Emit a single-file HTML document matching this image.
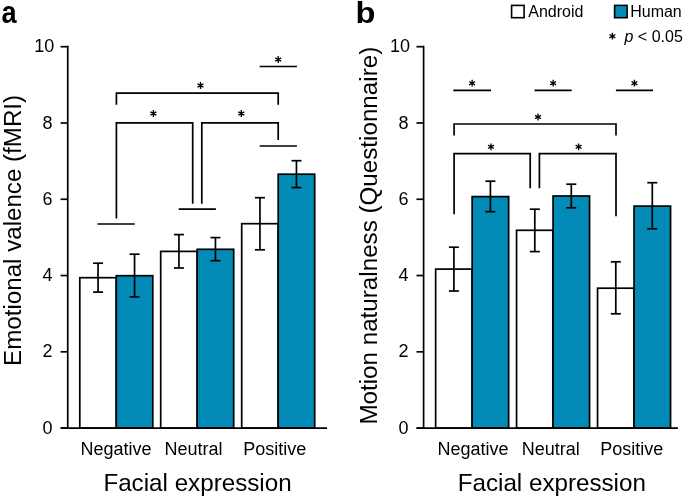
<!DOCTYPE html>
<html><head><meta charset="utf-8"><style>
html,body{margin:0;padding:0;background:#fff;}
svg{display:block;}
text{font-family:"Liberation Sans",sans-serif;fill:#000;}
</style></head><body>
<svg width="685" height="498" viewBox="0 0 685 498" stroke="#000">
<rect x="0" y="0" width="685" height="498" fill="#fff" stroke="none"/>
<g stroke="#000">
<rect x="79.80" y="277.70" width="36.50" height="150.40" fill="#fff" stroke-width="1.7"/>
<rect x="116.30" y="275.70" width="36.50" height="152.40" fill="#028bb6" stroke-width="1.7"/>
<line x1="98.05" y1="263.20" x2="98.05" y2="292.10" stroke-width="1.7" stroke-linecap="butt"/>
<line x1="93.05" y1="263.20" x2="103.05" y2="263.20" stroke-width="1.7" stroke-linecap="butt"/>
<line x1="93.05" y1="292.10" x2="103.05" y2="292.10" stroke-width="1.7" stroke-linecap="butt"/>
<line x1="134.55" y1="254.20" x2="134.55" y2="296.90" stroke-width="1.7" stroke-linecap="butt"/>
<line x1="129.55" y1="254.20" x2="139.55" y2="254.20" stroke-width="1.7" stroke-linecap="butt"/>
<line x1="129.55" y1="296.90" x2="139.55" y2="296.90" stroke-width="1.7" stroke-linecap="butt"/>
<rect x="160.70" y="251.40" width="36.50" height="176.70" fill="#fff" stroke-width="1.7"/>
<rect x="197.20" y="249.30" width="36.50" height="178.80" fill="#028bb6" stroke-width="1.7"/>
<line x1="178.95" y1="234.60" x2="178.95" y2="268.00" stroke-width="1.7" stroke-linecap="butt"/>
<line x1="173.95" y1="234.60" x2="183.95" y2="234.60" stroke-width="1.7" stroke-linecap="butt"/>
<line x1="173.95" y1="268.00" x2="183.95" y2="268.00" stroke-width="1.7" stroke-linecap="butt"/>
<line x1="215.45" y1="237.60" x2="215.45" y2="260.70" stroke-width="1.7" stroke-linecap="butt"/>
<line x1="210.45" y1="237.60" x2="220.45" y2="237.60" stroke-width="1.7" stroke-linecap="butt"/>
<line x1="210.45" y1="260.70" x2="220.45" y2="260.70" stroke-width="1.7" stroke-linecap="butt"/>
<rect x="241.70" y="223.70" width="36.50" height="204.40" fill="#fff" stroke-width="1.7"/>
<rect x="278.20" y="174.20" width="36.50" height="253.90" fill="#028bb6" stroke-width="1.7"/>
<line x1="259.95" y1="197.70" x2="259.95" y2="249.80" stroke-width="1.7" stroke-linecap="butt"/>
<line x1="254.95" y1="197.70" x2="264.95" y2="197.70" stroke-width="1.7" stroke-linecap="butt"/>
<line x1="254.95" y1="249.80" x2="264.95" y2="249.80" stroke-width="1.7" stroke-linecap="butt"/>
<line x1="296.45" y1="160.70" x2="296.45" y2="187.60" stroke-width="1.7" stroke-linecap="butt"/>
<line x1="291.45" y1="160.70" x2="301.45" y2="160.70" stroke-width="1.7" stroke-linecap="butt"/>
<line x1="291.45" y1="187.60" x2="301.45" y2="187.60" stroke-width="1.7" stroke-linecap="butt"/>
<line x1="67.75" y1="45.85" x2="67.75" y2="428.10" stroke-width="1.7" stroke-linecap="butt"/>
<line x1="60.80" y1="428.10" x2="327.00" y2="428.10" stroke-width="1.7" stroke-linecap="butt"/>
<line x1="60.60" y1="428.10" x2="67.75" y2="428.10" stroke-width="1.7" stroke-linecap="butt"/>
<line x1="60.60" y1="351.82" x2="67.75" y2="351.82" stroke-width="1.7" stroke-linecap="butt"/>
<line x1="60.60" y1="275.54" x2="67.75" y2="275.54" stroke-width="1.7" stroke-linecap="butt"/>
<line x1="60.60" y1="199.26" x2="67.75" y2="199.26" stroke-width="1.7" stroke-linecap="butt"/>
<line x1="60.60" y1="122.98" x2="67.75" y2="122.98" stroke-width="1.7" stroke-linecap="butt"/>
<line x1="60.60" y1="46.70" x2="67.75" y2="46.70" stroke-width="1.7" stroke-linecap="butt"/>
<line x1="97.50" y1="224.00" x2="134.70" y2="224.00" stroke-width="1.7" stroke-linecap="butt"/>
<line x1="178.70" y1="209.10" x2="215.90" y2="209.10" stroke-width="1.7" stroke-linecap="butt"/>
<line x1="259.70" y1="146.00" x2="296.90" y2="146.00" stroke-width="1.7" stroke-linecap="butt"/>
<line x1="259.60" y1="66.50" x2="296.90" y2="66.50" stroke-width="1.7" stroke-linecap="butt"/>
<path d="M278.20,62.90L278.20,56.10M275.26,61.20L281.14,57.80M275.26,57.80L281.14,61.20" stroke-width="1.35" fill="none"/>
<polyline points="116.40,104.70 116.40,93.20 278.20,93.20 278.20,104.70" fill="none" stroke-width="1.7" stroke-linejoin="miter"/>
<path d="M200.50,88.90L200.50,82.10M197.56,87.20L203.44,83.80M197.56,83.80L203.44,87.20" stroke-width="1.35" fill="none"/>
<polyline points="116.40,218.50 116.40,122.90 192.70,122.90 192.70,203.70" fill="none" stroke-width="1.7" stroke-linejoin="miter"/>
<path d="M153.40,116.90L153.40,110.10M150.46,115.20L156.34,111.80M150.46,111.80L156.34,115.20" stroke-width="1.35" fill="none"/>
<polyline points="201.80,203.70 201.80,122.90 278.20,122.90 278.20,139.90" fill="none" stroke-width="1.7" stroke-linejoin="miter"/>
<path d="M241.30,116.90L241.30,110.10M238.36,115.20L244.24,111.80M238.36,111.80L244.24,115.20" stroke-width="1.35" fill="none"/>
<rect x="435.65" y="269.10" width="36.50" height="159.00" fill="#fff" stroke-width="1.7"/>
<rect x="472.15" y="196.60" width="36.50" height="231.50" fill="#028bb6" stroke-width="1.7"/>
<line x1="453.90" y1="247.20" x2="453.90" y2="291.00" stroke-width="1.7" stroke-linecap="butt"/>
<line x1="448.90" y1="247.20" x2="458.90" y2="247.20" stroke-width="1.7" stroke-linecap="butt"/>
<line x1="448.90" y1="291.00" x2="458.90" y2="291.00" stroke-width="1.7" stroke-linecap="butt"/>
<line x1="490.40" y1="181.20" x2="490.40" y2="211.70" stroke-width="1.7" stroke-linecap="butt"/>
<line x1="485.40" y1="181.20" x2="495.40" y2="181.20" stroke-width="1.7" stroke-linecap="butt"/>
<line x1="485.40" y1="211.70" x2="495.40" y2="211.70" stroke-width="1.7" stroke-linecap="butt"/>
<rect x="516.55" y="230.30" width="36.50" height="197.80" fill="#fff" stroke-width="1.7"/>
<rect x="553.05" y="196.00" width="36.50" height="232.10" fill="#028bb6" stroke-width="1.7"/>
<line x1="534.80" y1="209.20" x2="534.80" y2="251.60" stroke-width="1.7" stroke-linecap="butt"/>
<line x1="529.80" y1="209.20" x2="539.80" y2="209.20" stroke-width="1.7" stroke-linecap="butt"/>
<line x1="529.80" y1="251.60" x2="539.80" y2="251.60" stroke-width="1.7" stroke-linecap="butt"/>
<line x1="571.30" y1="184.20" x2="571.30" y2="207.80" stroke-width="1.7" stroke-linecap="butt"/>
<line x1="566.30" y1="184.20" x2="576.30" y2="184.20" stroke-width="1.7" stroke-linecap="butt"/>
<line x1="566.30" y1="207.80" x2="576.30" y2="207.80" stroke-width="1.7" stroke-linecap="butt"/>
<rect x="597.55" y="288.20" width="36.50" height="139.90" fill="#fff" stroke-width="1.7"/>
<rect x="634.05" y="206.10" width="36.50" height="222.00" fill="#028bb6" stroke-width="1.7"/>
<line x1="615.80" y1="261.80" x2="615.80" y2="313.80" stroke-width="1.7" stroke-linecap="butt"/>
<line x1="610.80" y1="261.80" x2="620.80" y2="261.80" stroke-width="1.7" stroke-linecap="butt"/>
<line x1="610.80" y1="313.80" x2="620.80" y2="313.80" stroke-width="1.7" stroke-linecap="butt"/>
<line x1="652.30" y1="182.70" x2="652.30" y2="228.80" stroke-width="1.7" stroke-linecap="butt"/>
<line x1="647.30" y1="182.70" x2="657.30" y2="182.70" stroke-width="1.7" stroke-linecap="butt"/>
<line x1="647.30" y1="228.80" x2="657.30" y2="228.80" stroke-width="1.7" stroke-linecap="butt"/>
<line x1="423.60" y1="45.85" x2="423.60" y2="428.10" stroke-width="1.7" stroke-linecap="butt"/>
<line x1="416.65" y1="428.10" x2="677.90" y2="428.10" stroke-width="1.7" stroke-linecap="butt"/>
<line x1="416.45" y1="428.10" x2="423.60" y2="428.10" stroke-width="1.7" stroke-linecap="butt"/>
<line x1="416.45" y1="351.82" x2="423.60" y2="351.82" stroke-width="1.7" stroke-linecap="butt"/>
<line x1="416.45" y1="275.54" x2="423.60" y2="275.54" stroke-width="1.7" stroke-linecap="butt"/>
<line x1="416.45" y1="199.26" x2="423.60" y2="199.26" stroke-width="1.7" stroke-linecap="butt"/>
<line x1="416.45" y1="122.98" x2="423.60" y2="122.98" stroke-width="1.7" stroke-linecap="butt"/>
<line x1="416.45" y1="46.70" x2="423.60" y2="46.70" stroke-width="1.7" stroke-linecap="butt"/>
<line x1="453.30" y1="90.40" x2="491.00" y2="90.40" stroke-width="1.7" stroke-linecap="butt"/>
<path d="M472.15,86.60L472.15,79.80M469.21,84.90L475.09,81.50M469.21,81.50L475.09,84.90" stroke-width="1.35" fill="none"/>
<line x1="534.60" y1="90.40" x2="571.70" y2="90.40" stroke-width="1.7" stroke-linecap="butt"/>
<path d="M553.15,86.60L553.15,79.80M550.21,84.90L556.09,81.50M550.21,81.50L556.09,84.90" stroke-width="1.35" fill="none"/>
<line x1="615.90" y1="90.40" x2="653.00" y2="90.40" stroke-width="1.7" stroke-linecap="butt"/>
<path d="M634.45,86.60L634.45,79.80M631.51,84.90L637.39,81.50M631.51,81.50L637.39,84.90" stroke-width="1.35" fill="none"/>
<polyline points="454.10,135.40 454.10,124.00 616.00,124.00 616.00,135.40" fill="none" stroke-width="1.7" stroke-linejoin="miter"/>
<path d="M538.00,120.40L538.00,113.60M535.06,118.70L540.94,115.30M535.06,115.30L540.94,118.70" stroke-width="1.35" fill="none"/>
<polyline points="454.10,214.30 454.10,153.60 530.20,153.60 530.20,188.20" fill="none" stroke-width="1.7" stroke-linejoin="miter"/>
<path d="M491.00,150.20L491.00,143.40M488.06,148.50L493.94,145.10M488.06,145.10L493.94,148.50" stroke-width="1.35" fill="none"/>
<polyline points="539.40,188.20 539.40,153.60 616.00,153.60 616.00,216.20" fill="none" stroke-width="1.7" stroke-linejoin="miter"/>
<path d="M578.60,150.20L578.60,143.40M575.66,148.50L581.54,145.10M575.66,145.10L581.54,148.50" stroke-width="1.35" fill="none"/>
<rect x="511.6" y="5.4" width="12.5" height="12.3" fill="#fff" stroke-width="1.6"/>
<rect x="614.6" y="5.4" width="12.5" height="12.3" fill="#028bb6" stroke-width="1.6"/>
<path d="M612.40,39.60L612.40,32.80M609.46,37.90L615.34,34.50M609.46,34.50L615.34,37.90" stroke-width="1.35" fill="none"/>
</g>
<g stroke="none" style="filter:grayscale(1)">
<text x="52.50" y="433.70" font-size="18" text-anchor="end" >0</text>
<text x="52.50" y="357.42" font-size="18" text-anchor="end" >2</text>
<text x="52.50" y="281.14" font-size="18" text-anchor="end" >4</text>
<text x="52.50" y="204.86" font-size="18" text-anchor="end" >6</text>
<text x="52.50" y="128.58" font-size="18" text-anchor="end" >8</text>
<text x="54.20" y="52.30" font-size="18" text-anchor="end" >10</text>
<text x="408.45" y="433.70" font-size="18" text-anchor="end" >0</text>
<text x="408.45" y="357.42" font-size="18" text-anchor="end" >2</text>
<text x="408.45" y="281.14" font-size="18" text-anchor="end" >4</text>
<text x="408.45" y="204.86" font-size="18" text-anchor="end" >6</text>
<text x="408.45" y="128.58" font-size="18" text-anchor="end" >8</text>
<text x="410.15" y="52.30" font-size="18" text-anchor="end" >10</text>
<text x="103.40" y="490.50" font-size="24.2" text-anchor="start" >Facial expression</text>
<text x="457.70" y="490.50" font-size="24.2" text-anchor="start" >Facial expression</text>
<text transform="translate(21.1,365.9) rotate(-90)" font-size="24.15" x="0" y="0">Emotional valence (fMRI)</text>
<text transform="translate(377.1,424.6) rotate(-90)" font-size="24.2" x="0" y="0">Motion naturalness (Questionnaire)</text>
<text x="80.40" y="454.70" font-size="18" text-anchor="start" >Negative</text>
<text x="164.50" y="454.70" font-size="18" text-anchor="start" >Neutral</text>
<text x="243.20" y="454.70" font-size="18" text-anchor="start" >Positive</text>
<text x="437.50" y="454.70" font-size="18" text-anchor="start" >Negative</text>
<text x="521.80" y="454.70" font-size="18" text-anchor="start" >Neutral</text>
<text x="600.20" y="454.70" font-size="18" text-anchor="start" >Positive</text>
<text transform="translate(1.6,23) scale(0.906,1.04)" font-size="30" font-weight="bold">a</text>
<text transform="translate(355.6,23) scale(1.087,1)" font-size="30" font-weight="bold">b</text>
<text x="528.30" y="16.70" font-size="16" text-anchor="start" >Android</text>
<text x="630.20" y="16.70" font-size="16" text-anchor="start" >Human</text>
<text x="624.5" y="41.9" font-size="16"><tspan font-style="italic">p</tspan> &lt; 0.05</text>
</g>
</svg>
</body></html>
